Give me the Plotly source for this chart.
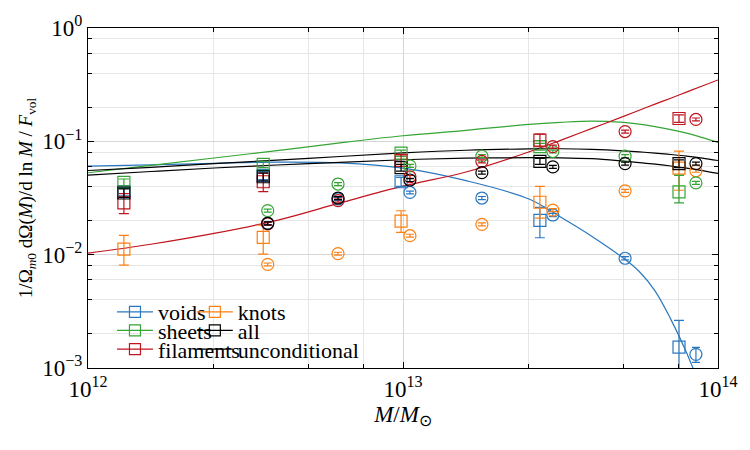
import plotly.graph_objects as go

# ---------------- data ----------------
M_sq = [1.30e12, 3.60e12, 9.86e12, 2.72e13, 7.52e13]
M_ci = [3.72e12, 6.22e12, 1.052e13, 1.78e13, 2.99e13, 5.07e13, 8.51e13]

# squares (with error bars)
sq_voids = [0.036, 0.050, 0.044, 0.0201, 0.00153]
sq_voids_up = [0.003, 0.004, 0.004, 0.006, 0.0011]
sq_voids_dn = [0.003, 0.004, 0.004, 0.006, 0.0013]

sq_sheets = [0.0435, 0.0627, 0.0787, 0.0898, 0.0358]
sq_sheets_up = [0.003, 0.004, 0.005, 0.006, 0.0142]
sq_sheets_dn = [0.003, 0.004, 0.005, 0.006, 0.0072]

sq_fil = [0.0286, 0.044, 0.068, 0.1026, 0.159]
sq_fil_up = [0.006, 0.008, 0.008, 0.013, 0.012]
sq_fil_dn = [0.0056, 0.008, 0.008, 0.013, 0.012]

sq_knots = [0.0112, 0.0142, 0.0198, 0.029, 0.058]
sq_knots_up = [0.0036, 0.004, 0.0046, 0.011, 0.024]
sq_knots_dn = [0.0031, 0.0041, 0.0041, 0.008, 0.021]

sq_all = [0.035, 0.0487, 0.0587, 0.0666, 0.0636]
sq_all_err = [0.003, 0.004, 0.004, 0.004, 0.005]

# circles (second data set, small error bars)
ci_voids = [0.019, 0.031, 0.0354, 0.0316, 0.0224, 0.0093, 0.00132]
ci_sheets = [0.0245, 0.042, 0.0607, 0.074, 0.0813, 0.074, 0.043]
ci_fil = [0.0187, 0.0300, 0.0487, 0.0666, 0.0898, 0.122, 0.156]
ci_knots = [0.0082, 0.0102, 0.0147, 0.0185, 0.0247, 0.0366, 0.055]
ci_all = [0.0189, 0.0316, 0.0456, 0.053, 0.0595, 0.0636, 0.0636]
ci_voids_err = [0.0006, 0.0009, 0.001, 0.001, 0.0007, 0.0003, 0.0002]

# model curves
M_curve = [1e12, 1.585e12, 2.512e12, 3.981e12, 6.310e12, 1e13, 1.585e13,
           2.512e13, 3.162e13, 3.981e13, 5.012e13, 5.623e13, 6.310e13,
           7.079e13, 7.943e13, 8.913e13, 1e14]
cv_voids = [0.0605, 0.062, 0.064, 0.0655, 0.0645, 0.058, 0.045, 0.031, 0.0215,
            0.0145, 0.0093, 0.0071, 0.0048, 0.0027, 0.00137, 0.0006, 0.0002]
cv_sheets = [0.0528, 0.0614, 0.0713, 0.0828, 0.097, 0.112, 0.125, 0.141, 0.147,
             0.151, 0.147, 0.142, 0.135, 0.127, 0.118, 0.108, 0.098]
cv_fil = [0.0103, 0.01236, 0.0154, 0.0201, 0.0286, 0.0402, 0.0536, 0.0807, 0.102,
          0.130, 0.166, 0.188, 0.213, 0.240, 0.272, 0.308, 0.348]
cv_all_hi = [0.0553, 0.0589, 0.0636, 0.0683, 0.0735, 0.079, 0.0834, 0.0857, 0.086,
             0.085, 0.0825, 0.0808, 0.0787, 0.0765, 0.0741, 0.0712, 0.0677]
cv_all_lo = [0.0503, 0.0542, 0.0582, 0.0618, 0.0653, 0.0688, 0.071, 0.0717, 0.0716,
             0.0703, 0.0669, 0.065, 0.063, 0.0606, 0.058, 0.0552, 0.0521]

names = ["voids", "sheets", "filaments", "knots", "all", "unconditional"]

C_BLUE = "#2a78c0"
C_GREEN = "#35a535"
C_RED = "#c0141e"
C_ORANGE = "#ff7f10"
C_BLACK = "#000000"

FONT = "Liberation Serif"

fig = go.Figure()

# curves
for y, c in [(cv_voids, C_BLUE), (cv_sheets, C_GREEN), (cv_fil, C_RED),
             (cv_all_hi, C_BLACK), (cv_all_lo, C_BLACK)]:
    fig.add_trace(go.Scatter(x=M_curve, y=y, mode="lines", line=dict(color=c, width=1.2, shape="spline"),
                             showlegend=False, hoverinfo="skip"))

# squares
def add_sq(y, up, dn, c):
    fig.add_trace(go.Scatter(
        x=M_sq, y=y, mode="markers",
        marker=dict(symbol="square-open", size=12, color=c, line=dict(width=1.2, color=c)),
        error_y=dict(type="data", array=up, arrayminus=dn, color=c, thickness=1.2, width=5),
        showlegend=False))

add_sq(sq_voids, sq_voids_up, sq_voids_dn, C_BLUE)
add_sq(sq_knots, sq_knots_up, sq_knots_dn, C_ORANGE)
add_sq(sq_sheets, sq_sheets_up, sq_sheets_dn, C_GREEN)
add_sq(sq_fil, sq_fil_up, sq_fil_dn, C_RED)
add_sq(sq_all, sq_all_err, sq_all_err, C_BLACK)

# circles
def add_ci(y, err, c):
    fig.add_trace(go.Scatter(
        x=M_ci, y=y, mode="markers",
        marker=dict(symbol="circle-open", size=12, color=c, line=dict(width=1.2, color=c)),
        error_y=dict(type="data", array=err, color=c, thickness=1.2, width=4),
        showlegend=False))

add_ci(ci_voids, ci_voids_err, C_BLUE)
add_ci(ci_knots, [v * 0.03 for v in ci_knots], C_ORANGE)
add_ci(ci_sheets, [v * 0.03 for v in ci_sheets], C_GREEN)
add_ci(ci_fil, [v * 0.03 for v in ci_fil], C_RED)
add_ci(ci_all, [v * 0.03 for v in ci_all], C_BLACK)

# legend entries (one legend each, positioned like the reference)
leg_specs = [
    ("voids", C_BLUE, "lines+markers", "legend"),
    ("sheets", C_GREEN, "lines+markers", "legend2"),
    ("filaments", C_RED, "lines+markers", "legend3"),
    ("knots", C_ORANGE, "lines+markers", "legend4"),
    ("all", C_BLACK, "lines+markers", "legend5"),
    ("unconditional", C_BLACK, "lines", "legend6"),
]
for name, c, mode, lg in leg_specs:
    fig.add_trace(go.Scatter(
        x=[None], y=[None], name=name, mode=mode,
        line=dict(color=c, width=1.2),
        marker=dict(symbol="square-open", size=11, color=c, line=dict(width=1.2, color=c)),
        legend=lg, showlegend=True))

L, R, T, B = 88, 31, 22, 82
W, H = 750, 450
pw, ph = W - L - R, H - T - B

def px(xp):
    return (xp - L) / pw

def py(yp):
    return (H - B - yp) / ph

leg_common = dict(bgcolor="rgba(0,0,0,0)", borderwidth=0, xanchor="left", yanchor="middle",
                  font=dict(family=FONT, size=22, color="black"), itemwidth=36)
col1, col2 = px(112), px(192)
rows = [py(311), py(330), py(349)]
fig.update_layout(
    legend=dict(x=col1, y=rows[0], **leg_common),
    legend2=dict(x=col1, y=rows[1], **leg_common),
    legend3=dict(x=col1, y=rows[2], **leg_common),
    legend4=dict(x=col2, y=rows[0], **leg_common),
    legend5=dict(x=col2, y=rows[1], **leg_common),
    legend6=dict(x=col2, y=rows[2], **leg_common),
)

x_ticks = [1e12, 1e13, 1e14]
x_ticktext = ["10<sup>12</sup>", "10<sup>13</sup>", "10<sup>14</sup>"]
x_minor = [2.5e12, 5e12, 7.5e12, 2.5e13, 5e13, 7.5e13]
y_ticks = [1e-3, 1e-2, 1e-1, 1e0]
y_ticktext = ["10<sup>−3</sup>", "10<sup>−2</sup>", "10<sup>−1</sup>", "10<sup>0</sup>"]
y_minor = [2e-3, 4e-3, 6e-3, 8e-3, 2e-2, 4e-2, 6e-2, 8e-2, 2e-1, 4e-1, 6e-1, 8e-1]

axis_common = dict(type="log", showline=True, linecolor="black", linewidth=1, mirror="allticks",
                   ticks="inside", ticklen=6, tickcolor="black", showgrid=True, gridcolor="#d6d6d6",
                   gridwidth=1, zeroline=False, tickfont=dict(family=FONT, size=23, color="black"))

fig.update_layout(
    width=W, height=H, margin=dict(l=L, r=R, t=T, b=B),
    paper_bgcolor="white", plot_bgcolor="white",
    font=dict(family=FONT, size=20, color="black"),
    xaxis=dict(range=[12, 14], tickmode="array", tickvals=x_ticks, ticktext=x_ticktext,
               minor=dict(tickmode="array", tickvals=x_minor, ticks="inside", ticklen=4,
                          tickcolor="black", showgrid=True, gridcolor="#e6e6e6"),
               title=dict(text="<i>M</i>/<i>M</i><sub>⊙</sub>", font=dict(family=FONT, size=23),
                          standoff=4),
               **axis_common),
    yaxis=dict(range=[-3, 0], tickmode="array", tickvals=y_ticks, ticktext=y_ticktext,
               minor=dict(tickmode="array", tickvals=y_minor, ticks="inside", ticklen=4,
                          tickcolor="black", showgrid=True, gridcolor="#e6e6e6"),
               title=dict(text="1/Ω<sub><i>m</i>0</sub> dΩ(<i>M</i>)/d ln <i>M</i> / <i>F</i><sub>vol</sub>",
                          font=dict(family=FONT, size=19), standoff=4),
               **axis_common),
)

fig.write_html("out.html")
